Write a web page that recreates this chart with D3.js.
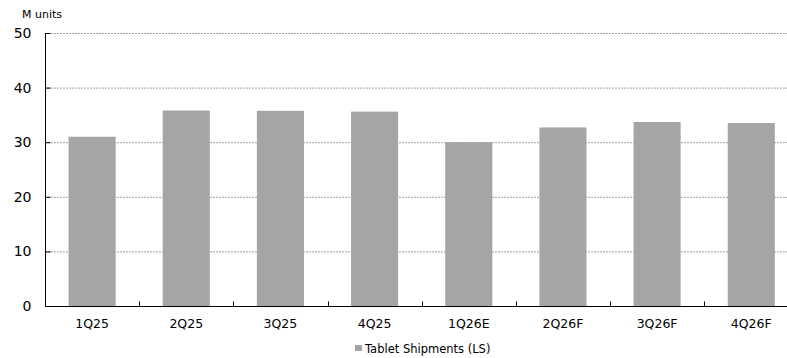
<!DOCTYPE html>
<html>
<head>
<meta charset="utf-8">
<script src="https://cdn.jsdelivr.net/npm/d3@7/dist/d3.min.js"></script>
<style>
  html, body { margin: 0; padding: 0; background: #fff; }
  svg { display: block; font-family: "DejaVu Sans", Verdana, sans-serif; }
</style>
</head>
<body>
<svg id="chart" width="787" height="358"></svg>
<script>
// Quarterly tablet shipments, million units
const quarters = ["1Q25", "2Q25", "3Q25", "4Q25", "1Q26E", "2Q26F", "3Q26F", "4Q26F"];
const shipments = [31.0, 35.8, 35.75, 35.6, 30.0, 32.7, 33.7, 33.5];
const yTicks = [0, 10, 20, 30, 40, 50];
const seriesName = "Tablet Shipments (LS)";
const unitLabel = "M units";

const svg = d3.select("#chart");
const plotLeft = 45, plotTop = 33, plotBottom = 306;
const step = 94.17;

const x = d3.scaleBand()
  .domain(quarters)
  .range([plotLeft, plotLeft + step * quarters.length])
  .paddingInner(0.5)
  .paddingOuter(0.25);

const y = d3.scaleLinear().domain([0, 50]).range([plotBottom, plotTop]);

// horizontal gridlines
svg.append("g")
  .selectAll("line")
  .data(yTicks.filter(d => d > 0))
  .join("line")
  .attr("x1", plotLeft).attr("x2", 787)
  .attr("y1", d => y(d) + 0.5).attr("y2", d => y(d) + 0.5)
  .attr("stroke", "#a0a0a0")
  .attr("stroke-width", 1)
  .attr("stroke-dasharray", "2,1");

// bars
svg.append("g")
  .selectAll("rect")
  .data(quarters.map((q, i) => ({ q, v: shipments[i] })))
  .join("rect")
  .attr("x", d => x(d.q))
  .attr("y", d => y(d.v))
  .attr("width", x.bandwidth())
  .attr("height", d => plotBottom - y(d.v))
  .attr("fill", "#a5a5a5");

// y axis
const yAxis = d3.axisLeft(y).tickValues(yTicks).tickSize(-5).tickPadding(14);
const gy = svg.append("g").attr("transform", `translate(${plotLeft + 0.5},0)`).call(yAxis);
gy.select(".domain").attr("stroke", "#000").attr("d", `M0,${plotTop}V${plotBottom}`);
gy.selectAll(".tick line").attr("stroke", "#000");
gy.selectAll(".tick text")
  .attr("font-size", 14)
  .attr("fill", "#000")
  .attr("font-family", "DejaVu Sans, sans-serif");

// x axis baseline with ticks at category boundaries
const gx = svg.append("g").attr("transform", `translate(0,${plotBottom + 0.5})`);
gx.append("line")
  .attr("x1", plotLeft).attr("x2", 787)
  .attr("stroke", "#000").attr("stroke-width", 1.2);
gx.selectAll(".bound")
  .data(quarters.slice(1))
  .join("line")
  .attr("class", "bound")
  .attr("x1", d => Math.round(x(d) - x.step() * x.paddingInner() / 2) + 0.5)
  .attr("x2", d => Math.round(x(d) - x.step() * x.paddingInner() / 2) + 0.5)
  .attr("y1", 0).attr("y2", -5)
  .attr("stroke", "#000");
gx.selectAll(".lbl")
  .data(quarters)
  .join("text")
  .attr("class", "lbl")
  .attr("x", d => x(d) + x.bandwidth() / 2)
  .attr("y", 21)
  .attr("text-anchor", "middle")
  .attr("font-size", 12.5)
  .attr("fill", "#000")
  .text(d => d);

// unit label
svg.append("text")
  .attr("x", 22).attr("y", 18)
  .attr("font-size", 11)
  .attr("fill", "#000")
  .text(unitLabel);

// legend
const lg = svg.append("g").attr("transform", "translate(355,345)");
lg.append("rect").attr("width", 7).attr("height", 6).attr("fill", "#a5a5a5");
lg.append("text")
  .attr("x", 10).attr("y", 7.5)
  .attr("font-size", 11.5)
  .attr("fill", "#000")
  .text(seriesName);
</script>
</body>
</html>
